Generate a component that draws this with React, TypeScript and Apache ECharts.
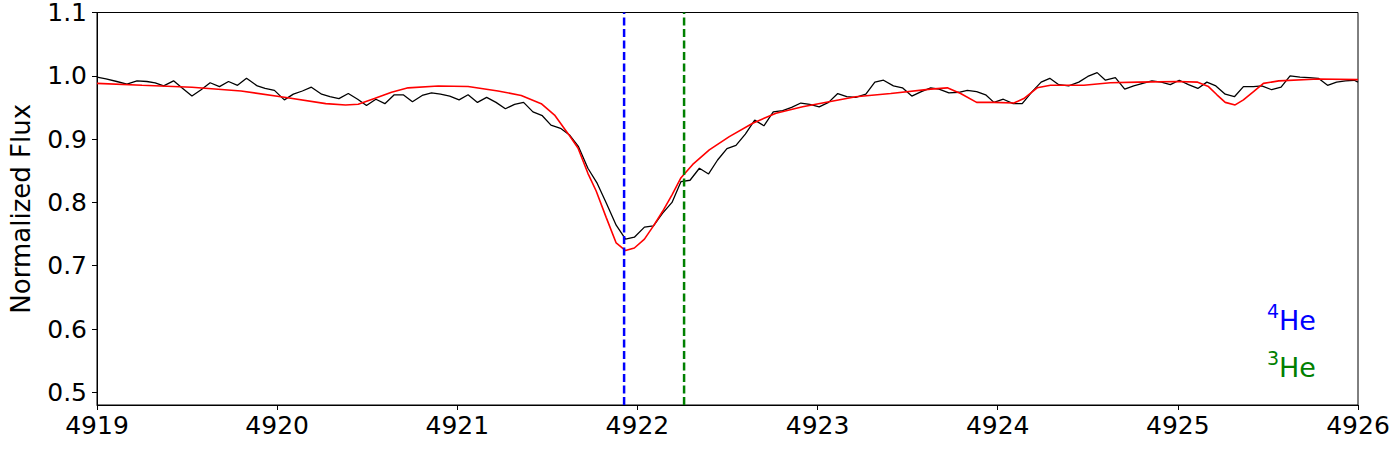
import React, { useEffect, useRef } from "react";
import * as echarts from "echarts";

const observedWavelength = [
  4919.0, 4919.05, 4919.11, 4919.166, 4919.222, 4919.277, 4919.323, 4919.37, 4919.425, 4919.476,
  4919.527, 4919.578, 4919.628, 4919.68, 4919.73, 4919.78, 4919.83, 4919.89, 4919.933, 4919.985,
  4920.04, 4920.09, 4920.14, 4920.19, 4920.247, 4920.293, 4920.343, 4920.395, 4920.447, 4920.496,
  4920.548, 4920.598, 4920.65, 4920.7, 4920.751, 4920.805, 4920.857, 4920.907, 4920.958, 4921.01,
  4921.06, 4921.112, 4921.163, 4921.215, 4921.267, 4921.318, 4921.368, 4921.42, 4921.472, 4921.52,
  4921.573, 4921.625, 4921.673, 4921.725, 4921.777, 4921.827, 4921.882, 4921.934, 4921.983, 4922.039,
  4922.089, 4922.14, 4922.192, 4922.242, 4922.292, 4922.344, 4922.395, 4922.445, 4922.497, 4922.547,
  4922.599, 4922.651, 4922.702, 4922.754, 4922.806, 4922.856, 4922.907, 4922.957, 4923.009, 4923.061,
  4923.112, 4923.162, 4923.212, 4923.268, 4923.318, 4923.366, 4923.421, 4923.471, 4923.523, 4923.576,
  4923.628, 4923.674, 4923.729, 4923.785, 4923.831, 4923.883, 4923.933, 4923.979, 4924.031, 4924.086,
  4924.136, 4924.191, 4924.241, 4924.289, 4924.339, 4924.394, 4924.45, 4924.5, 4924.552, 4924.598,
  4924.653, 4924.705, 4924.755, 4924.805, 4924.856, 4924.908, 4924.958, 4925.008, 4925.059, 4925.111,
  4925.161, 4925.211, 4925.263, 4925.314, 4925.364, 4925.42, 4925.466, 4925.521, 4925.573, 4925.623,
  4925.678, 4925.728, 4925.78, 4925.831, 4925.881, 4925.931, 4925.979, 4926.0,
];

const observedFlux = [
  0.998, 0.995, 0.991, 0.987, 0.992, 0.991, 0.989, 0.984, 0.992, 0.98,
  0.968, 0.978, 0.989, 0.983, 0.991, 0.985, 0.996, 0.984, 0.98, 0.977,
  0.962, 0.971, 0.976, 0.982, 0.971, 0.967, 0.964, 0.972, 0.963, 0.953,
  0.963, 0.956, 0.97, 0.97, 0.959, 0.969, 0.973, 0.971, 0.968, 0.962,
  0.97, 0.958, 0.966, 0.958, 0.948, 0.955, 0.958, 0.943, 0.937, 0.922,
  0.917, 0.906, 0.888, 0.854, 0.83, 0.799, 0.764, 0.742, 0.745, 0.761,
  0.763, 0.783, 0.8, 0.833, 0.835, 0.854, 0.845, 0.867, 0.885, 0.89,
  0.908, 0.93, 0.921, 0.943, 0.945, 0.95, 0.957, 0.955, 0.951, 0.958,
  0.972, 0.967, 0.966, 0.971, 0.99, 0.993, 0.984, 0.981, 0.968, 0.975,
  0.981, 0.979, 0.973, 0.974, 0.977, 0.975, 0.97, 0.958, 0.963, 0.956,
  0.956, 0.975, 0.99, 0.996, 0.986, 0.984, 0.99, 0.999, 1.005, 0.993,
  0.997, 0.979, 0.984, 0.988, 0.992, 0.99, 0.986, 0.993, 0.986, 0.98,
  0.99, 0.984, 0.971, 0.967, 0.983, 0.983, 0.984, 0.978, 0.982, 1.0,
  0.998, 0.997, 0.996, 0.985, 0.99, 0.992, 0.993, 0.99,
];

const modelWavelength = [
  4919.0, 4919.25, 4919.527, 4919.8, 4920.04, 4920.27, 4920.38, 4920.45, 4920.54, 4920.635,
  4920.727, 4920.894, 4921.06, 4921.226, 4921.355, 4921.466, 4921.54, 4921.614, 4921.67, 4921.725,
  4921.771, 4921.827, 4921.882, 4921.934, 4921.983, 4922.039, 4922.089, 4922.14, 4922.192, 4922.242,
  4922.307, 4922.399, 4922.51, 4922.64, 4922.769, 4922.917, 4923.064, 4923.212, 4923.406, 4923.628,
  4923.72, 4923.794, 4923.883, 4923.979, 4924.09, 4924.145, 4924.219, 4924.293, 4924.478, 4924.625,
  4924.78, 4925.0, 4925.11, 4925.17, 4925.217, 4925.263, 4925.318, 4925.364, 4925.42, 4925.475,
  4925.56, 4925.78, 4926.0,
];

const modelFlux = [
  0.988, 0.985, 0.982, 0.976, 0.966, 0.956, 0.954, 0.955, 0.964, 0.974,
  0.981, 0.984, 0.983, 0.976, 0.969, 0.956, 0.938, 0.909, 0.886, 0.846,
  0.818, 0.776, 0.736, 0.724, 0.728, 0.742, 0.763, 0.786, 0.812, 0.839,
  0.86, 0.883, 0.904, 0.925, 0.941, 0.951, 0.959, 0.967, 0.972, 0.979,
  0.981, 0.972, 0.958, 0.958, 0.957, 0.964, 0.981, 0.985, 0.985, 0.989,
  0.99, 0.991, 0.99, 0.983, 0.97, 0.958, 0.954, 0.962, 0.975, 0.988,
  0.992, 0.995, 0.994,
];

const he4Wavelength = 4921.926;
const he3Wavelength = 4922.259;
const yTickValues = [0.5, 0.6, 0.7, 0.8, 0.9, 1.0, 1.1];
const xMin = 4919;
const xMax = 4926;
const yMin = 0.48;
const yMax = 1.1;

const FONT = "DejaVu Sans";
const DASH = [8, 3.5];

export default function App() {
  const ref = useRef<HTMLDivElement>(null);

  useEffect(() => {
    if (!ref.current) return;
    const chart = echarts.init(ref.current, null, { renderer: "svg" });
    const observed = observedWavelength.map((w, i) => [w, observedFlux[i]]);
    const model = modelWavelength.map((w, i) => [w, modelFlux[i]]);
    const vline = (x: number, color: string, z: number) => ({
      type: "line",
      data: [
        [x, yMin],
        [x, yMax],
      ],
      showSymbol: false,
      symbol: "none",
      silent: true,
      lineStyle: { color, width: 2.5, type: DASH, cap: "butt" },
      z,
    });

    chart.setOption({
      animation: false,
      textStyle: { fontFamily: FONT },
      grid: {
        left: 95,
        right: 42,
        top: 11,
        bottom: 45,
        show: true,
        borderColor: "#000",
        borderWidth: 1,
        backgroundColor: "transparent",
      },
      xAxis: {
        type: "value",
        min: xMin,
        max: xMax,
        interval: 1,
        axisLine: { show: true, onZero: false, lineStyle: { color: "#000", width: 1 } },
        axisTick: { show: true, inside: false, length: 5, lineStyle: { color: "#000", width: 1 } },
        axisLabel: {
          color: "#000",
          fontSize: 25,
          fontFamily: FONT,
          margin: 8,
          formatter: (v: number) => String(Math.round(v)),
        },
        splitLine: { show: false },
      },
      yAxis: {
        type: "value",
        min: yMin,
        max: yMax,
        name: "Normalized Flux",
        nameLocation: "middle",
        nameGap: 63,
        nameTextStyle: { color: "#000", fontSize: 26, fontFamily: FONT },
        axisLine: { show: true, onZero: false, lineStyle: { color: "#000", width: 1 } },
        axisTick: {
          show: true,
          inside: false,
          length: 5,
          customValues: yTickValues,
          lineStyle: { color: "#000", width: 1 },
        },
        axisLabel: {
          color: "#000",
          fontSize: 25,
          fontFamily: FONT,
          margin: 10,
          customValues: yTickValues,
          formatter: (v: number) => v.toFixed(1),
        },
        splitLine: { show: false },
      },
      series: [
        {
          type: "line",
          data: observed,
          showSymbol: false,
          symbol: "none",
          lineStyle: { color: "#000", width: 1.3 },
          z: 2,
        },
        {
          type: "line",
          data: model,
          showSymbol: false,
          symbol: "none",
          lineStyle: { color: "#ff0000", width: 1.6 },
          z: 3,
        },
        vline(he4Wavelength, "#0000ff", 4),
        vline(he3Wavelength, "#008000", 4),
      ],
      graphic: [
        {
          type: "text",
          x: 1267,
          y: 311,
          style: { text: "4", fill: "#0000ff", fontSize: 19, fontFamily: FONT, verticalAlign: "middle" },
        },
        {
          type: "text",
          x: 1279,
          y: 320.5,
          style: { text: "He", fill: "#0000ff", fontSize: 27, fontFamily: FONT, verticalAlign: "middle" },
        },
        {
          type: "text",
          x: 1267,
          y: 358,
          style: { text: "3", fill: "#008000", fontSize: 19, fontFamily: FONT, verticalAlign: "middle" },
        },
        {
          type: "text",
          x: 1279,
          y: 367.5,
          style: { text: "He", fill: "#008000", fontSize: 27, fontFamily: FONT, verticalAlign: "middle" },
        },
      ],
    });

    return () => chart.dispose();
  }, []);

  return (
    <div
      ref={ref}
      style={{ position: "absolute", left: 0, top: 0, width: 1400, height: 450 }}
    />
  );
}
